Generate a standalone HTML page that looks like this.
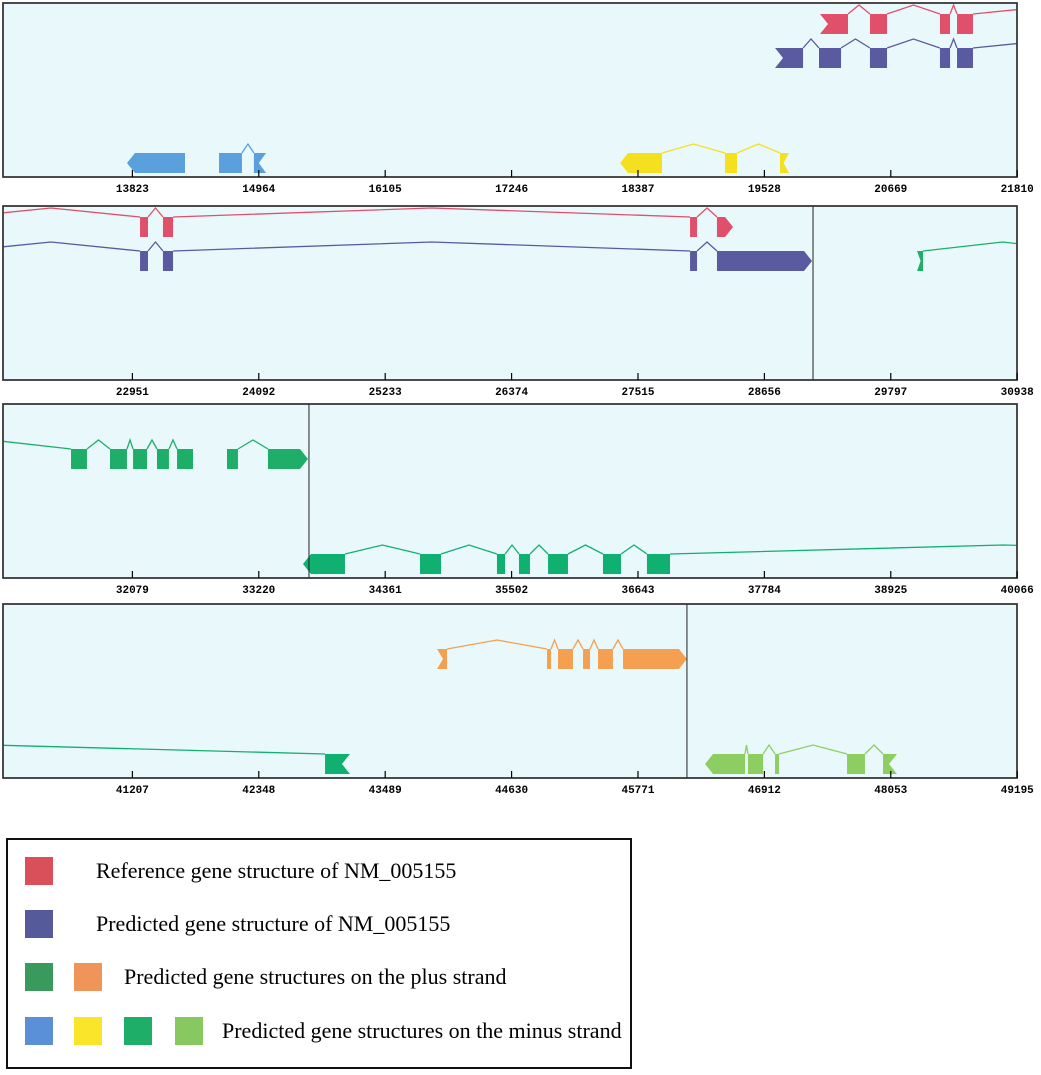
<!DOCTYPE html>
<html><head><meta charset="utf-8"><style>
html,body{margin:0;padding:0;background:#fff;}
svg{display:block;}
.tl{font-family:"Liberation Mono",monospace;font-size:11px;font-weight:bold;fill:#000;}
.lg{font-family:"Liberation Serif",serif;font-size:22px;fill:#000;}
</style></head><body>
<svg id="chart" width="1041" height="1075" viewBox="0 0 1041 1075" xmlns="http://www.w3.org/2000/svg">
<g id="panels"></g>
<g>
<rect x="7" y="839" width="624" height="229" fill="#fff" stroke="#111" stroke-width="2"/>
<rect x="25" y="857" width="28" height="28" fill="#d9505a"/>
<text class="lg" x="96" y="878">Reference gene structure of NM_005155</text>
<rect x="25" y="910" width="28" height="28" fill="#555a9a"/>
<text class="lg" x="96" y="931">Predicted gene structure of NM_005155</text>
<rect x="25" y="963" width="28" height="28" fill="#3a9a5e"/>
<rect x="74" y="963" width="28" height="28" fill="#f0955a"/>
<text class="lg" x="124" y="984">Predicted gene structures on the plus strand</text>
<rect x="25" y="1017" width="28" height="28" fill="#5a90d8"/>
<rect x="74" y="1017" width="28" height="28" fill="#fbe52a"/>
<rect x="124" y="1017" width="28" height="28" fill="#1fae68"/>
<rect x="175" y="1017" width="28" height="28" fill="#88c860"/>
<text class="lg" x="222" y="1038">Predicted gene structures on the minus strand</text>
</g>
</svg>
<script>
// ---- data (base-pair coordinates) ----
const panelStarts = [12655, 21783, 30911, 40039];
const tickStep = 1141;
const tickLabels = [
  [13823,14964,16105,17246,18387,19528,20669,21810],
  [22951,24092,25233,26374,27515,28656,29797,30938],
  [32079,33220,34361,35502,36643,37784,38925,40066],
  [41207,42348,43489,44630,45771,46912,48053,49195]
];
const boundaries = [29095, 33673, 46213];
const geneNames = ["reference-nm005155","predicted-nm005155","minus-blue","minus-yellow","plus-green","minus-green","plus-orange","minus-lightgreen"];
const geneColors = ["#e0506a","#5a5aa0","#5aa0dc","#f5e020","#1fae68","#10b070","#f5a050","#8ccf60"];
const geneRows = [0,1,2,2,1,2,1,2];
const exonStarts = [
  [20030,20481,21113,21267,23020,23227,27985,28228],
  [19624,20021,20481,21113,21267,23020,23227,27985,28228],
  [13774,14605,14920],
  [18225,19172,19669],
  [30034,31525,31877,32085,32301,32482,32933,33303],
  [33619,34675,35370,35569,35831,36327,36724,42946],
  [43957,44950,45049,45275,45410,45636],
  [46376,46764,47008,47658,47983]
];
const exonEnds = [
  [20283,20635,21204,21411,23092,23318,28048,28373],
  [19877,20220,20635,21204,21411,23092,23318,28048,29086],
  [14298,14812,15030],
  [18604,19281,19750],
  [30088,31669,32030,32211,32409,32626,33032,33664],
  [33998,34865,35443,35668,36011,36490,36932,43171],
  [44047,44986,45184,45338,45545,46213],
  [46737,46900,47044,47820,48109]
];
const exonShapes = [
  ["notchL","","","","","","","arrowR"],
  ["notchL","","","","","","","","arrowR"],
  ["arrowL","","notchR"],
  ["arrowL","","notchR"],
  ["notchL","","","","","","","arrowR"],
  ["arrowL","","","","","","","notchR"],
  ["notchL","","","","","arrowR"],
  ["arrowL","","","","notchR"]
];
// intron indices drawn without a connector
const hiddenIntrons = [[],[],[0],[],[5],[],[],[]];

// ---- layout ----
const panelTops = [3, 206, 404, 604];
const panelH = 174, panelX = 3, panelW = 1014;
const bpPerPx = 9.027;
const rowOff = [11, 45, 150];
const exonH = 20;
const NS = "http://www.w3.org/2000/svg";
function xScale(p, bp){ return panelX + (bp - panelStarts[p]) / bpPerPx; }
function mk(tag, attrs, parent){ const e=document.createElementNS(NS,tag); for(const k in attrs) e.setAttribute(k,attrs[k]); parent.appendChild(e); return e; }
const root = document.getElementById('panels');
const defs = mk('defs',{},root);

function exonPath(x1,x2,y,h,shape){
  const m=y+h/2, a=Math.min(8,(x2-x1)*0.6);
  if(shape==="arrowR") return `M${x1},${y}H${x2-a}L${x2},${m}L${x2-a},${y+h}H${x1}Z`;
  if(shape==="arrowL") return `M${x2},${y}H${x1+a}L${x1},${m}L${x1+a},${y+h}H${x2}Z`;
  if(shape==="notchL") return `M${x1},${y}H${x2}V${y+h}H${x1}L${x1+a},${m}Z`;
  if(shape==="notchR") return `M${x1},${y}H${x2}L${x2-a},${m}L${x2},${y+h}H${x1}Z`;
  return `M${x1},${y}H${x2}V${y+h}H${x1}Z`;
}

for(let p=0;p<4;p++){
  const top=panelTops[p];
  const g=mk('g',{},root);
  
  
  const cp=mk('clipPath',{id:'cp'+p},defs);
  mk('rect',{x:panelX,y:top,width:panelW,height:panelH},cp);
  const bg=mk('rect',{x:panelX,y:top,width:panelW,height:panelH,fill:'#e9f8fb',stroke:'#333','stroke-width':1.5},g);
  
  
  const marks=mk('g',{'clip-path':'url(#cp'+p+')'},g);
  const pEnd=panelStarts[p]+panelW*bpPerPx;
  for(let gi=0;gi<geneNames.length;gi++){
    const y=top+rowOff[geneRows[gi]];
    const s=exonStarts[gi], e=exonEnds[gi];
    for(let k=0;k<s.length-1;k++){
      if(hiddenIntrons[gi].indexOf(k)>=0) continue;
      const a=e[k], b=s[k+1];
      if(!(a<pEnd && b>panelStarts[p])) continue;
      const mid=(a+b)/2;
      const pl=mk('polyline',{points:`${xScale(p,a)},${y} ${xScale(p,mid)},${y-9} ${xScale(p,b)},${y}`,fill:'none',stroke:geneColors[gi],'stroke-width':1.3},marks);
      
      
    }
    for(let k=0;k<s.length;k++){
      if(e[k]<panelStarts[p] || s[k]>pEnd) continue;
      const ex=mk('path',{d:exonPath(xScale(p,s[k]),xScale(p,e[k]),y,exonH,exonShapes[gi][k]),fill:geneColors[gi]},marks);
      
      
    }
  }
  for(const b of boundaries){
    if(b>panelStarts[p] && b<pEnd){
      const bx=xScale(p,b);
      const l=mk('line',{x1:bx,y1:top,x2:bx,y2:top+panelH,stroke:'#222','stroke-width':1},g);
      
      
    }
  }
  mk('rect',{x:panelX,y:top,width:panelW,height:panelH,fill:'none',stroke:'#333','stroke-width':1.5},g);
  const axY=top+panelH;
  for(const t of tickLabels[p]){
    const tx=xScale(p,t);
    const tk=mk('line',{x1:tx,y1:axY-7,x2:tx,y2:axY,stroke:'#000','stroke-width':1.2},g);
    
    
    const lb=mk('text',{x:Math.min(tx,1020),y:axY+15,'text-anchor':'middle',class:'tl'},g);
    lb.textContent=t;
    
    
  }
}
</script>
</body></html>
